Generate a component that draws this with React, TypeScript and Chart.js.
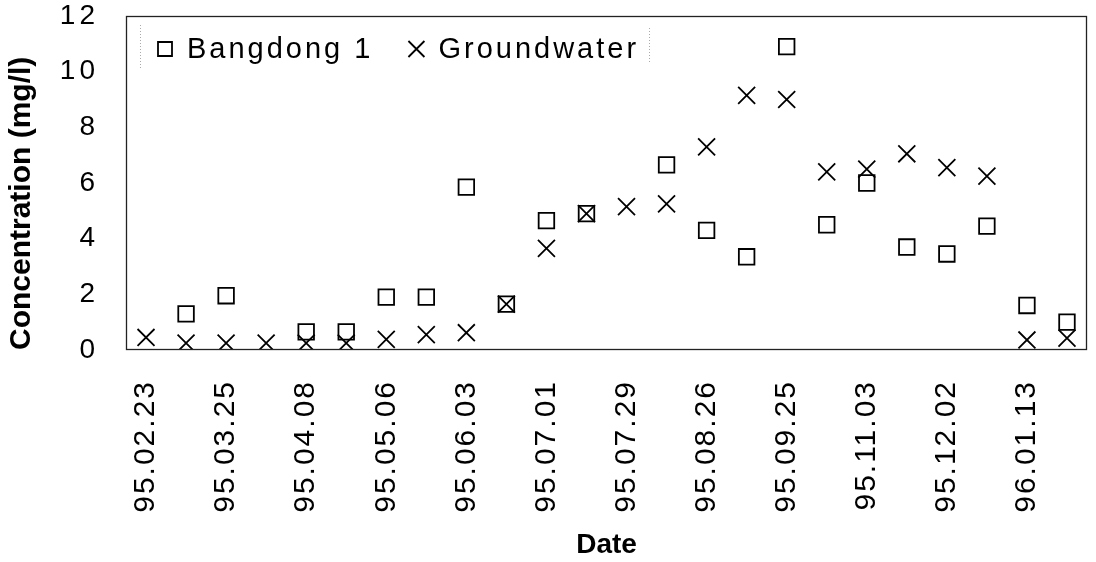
import React, { useEffect, useRef } from 'react';
import { Chart, registerables } from 'chart.js';

Chart.register(...registerables);

// Sampling dates: every other sampling date is labelled on the axis
const tickLabels = [
  '95.02.23', '95.03.25', '95.04.08', '95.05.06', '95.06.03', '95.07.01',
  '95.07.29', '95.08.26', '95.09.25', '95.11.03', '95.12.02', '96.01.13',
];
const categories: string[] = tickLabels.flatMap((l) => [l, '']);

const bangdong1: (number | null)[] = [
  null, 1.3, 1.95, null, 0.65, 0.65, 1.9, 1.9, 5.85, 1.65, 4.65, 4.9,
  null, 6.65, 4.3, 3.35, 10.9, 4.5, 6.0, 3.7, 3.45, 4.45, 1.6, 1.0,
];
const groundwater: (number | null)[] = [
  0.45, 0.25, 0.25, 0.25, 0.25, 0.25, 0.38, 0.55, 0.62, 1.65, 3.65, 4.9,
  5.15, 5.25, 7.3, 9.15, 9.0, 6.4, 6.5, 7.05, 6.55, 6.25, 0.36, 0.43,
];

const FONT = '"Liberation Sans", Arial, Helvetica, sans-serif';

const spacingPlugin = {
  id: 'labelSpacing',
  afterUpdate(chart: any) {
    const spacing: Record<string, string> = { x: '2px', y: '4px' };
    Object.values(chart.scales).forEach((scale: any) => {
      if (scale.__patched) return;
      const orig = scale.drawLabels;
      scale.drawLabels = function (area: any) {
        const ctx = this.ctx;
        ctx.save();
        try { ctx.letterSpacing = spacing[this.id] || '0px'; } catch (e) {}
        orig.call(this, area);
        ctx.restore();
      };
      scale.__patched = true;
    });
  },
};

const frameLegendPlugin = {
  id: 'frameLegend',
  afterDraw(chart: any) {
    const { ctx, chartArea: a } = chart;
    ctx.save();
    // plot frame
    ctx.strokeStyle = '#222';
    ctx.lineWidth = 1.3;
    ctx.strokeRect(a.left + 0.5, a.top + 0.5, a.right - a.left - 1, a.bottom - a.top - 1);

    // legend box sides (dotted)
    ctx.strokeStyle = '#aaa';
    ctx.lineWidth = 1;
    ctx.setLineDash([1, 2]);
    ctx.beginPath();
    ctx.moveTo(140.5, 25); ctx.lineTo(140.5, 68);
    ctx.moveTo(649.5, 28); ctx.lineTo(649.5, 63);
    ctx.stroke();
    ctx.setLineDash([]);

    // legend items
    ctx.font = `29px ${FONT}`;
    try { ctx.letterSpacing = '3px'; } catch (e) {}
    ctx.textBaseline = 'middle';
    ctx.textAlign = 'left';
    ctx.fillStyle = '#000';
    ctx.strokeStyle = '#000';
    ctx.lineWidth = 1.8;
    const cy = 49;
    let x = 157;
    chart.data.datasets.forEach((ds: any) => {
      const cx = x + 8;
      ctx.beginPath();
      if (ds.pointStyle === 'rect') {
        ctx.rect(cx - 7, cy - 7, 14, 14);
      } else {
        ctx.moveTo(cx - 8, cy - 8); ctx.lineTo(cx + 8, cy + 8);
        ctx.moveTo(cx + 8, cy - 8); ctx.lineTo(cx - 8, cy + 8);
      }
      ctx.stroke();
      const tx = x + 30;
      ctx.fillText(ds.label, tx, cy + 1);
      x = tx + ctx.measureText(ds.label).width + 35;
    });
    ctx.restore();
  },
};

function zeroPadding(scale: any) {
  scale.paddingTop = 0;
  scale.paddingBottom = 0;
  scale.paddingLeft = 0;
  scale.paddingRight = 0;
}

export default function App() {
  const ref = useRef<HTMLCanvasElement | null>(null);

  useEffect(() => {
    document.body.style.margin = '0';
    const canvas = ref.current;
    if (!canvas) return;
    const chart = new Chart(canvas, {
      type: 'line',
      data: {
        labels: categories,
        datasets: [
          {
            label: 'Bangdong 1',
            data: bangdong1,
            showLine: false,
            pointStyle: 'rect',
            pointRadius: 11,
            pointBorderWidth: 1.8,
            pointBorderColor: '#000',
            pointBackgroundColor: 'rgba(0,0,0,0)',
            borderColor: '#000',
            backgroundColor: 'rgba(0,0,0,0)',
          },
          {
            label: 'Groundwater',
            data: groundwater,
            showLine: false,
            pointStyle: 'crossRot',
            pointRadius: 12,
            pointBorderWidth: 1.8,
            pointBorderColor: '#000',
            pointBackgroundColor: 'rgba(0,0,0,0)',
            borderColor: '#000',
            backgroundColor: 'rgba(0,0,0,0)',
          },
        ],
      },
      options: {
        animation: false,
        responsive: false,
        devicePixelRatio: 1,
        layout: { autoPadding: false, padding: { top: 16, right: 9, left: 0, bottom: 0 } },
        plugins: {
          legend: { display: false },
          tooltip: { enabled: false },
        },
        scales: {
          x: {
            type: 'category',
            offset: true,
            grid: { display: false, drawTicks: false },
            border: { display: false },
            ticks: {
              autoSkip: false,
              minRotation: 90,
              maxRotation: 90,
              padding: 30,
              color: '#000',
              font: { family: FONT, size: 30 },
            },
            title: {
              display: true,
              text: 'Date',
              color: '#000',
              font: { family: FONT, size: 28, weight: 'bold' },
              padding: { top: 0, bottom: 0 },
            },
            afterFit(scale: any) { scale.height = 212; zeroPadding(scale); },
          },
          y: {
            min: 0,
            max: 12,
            grid: { display: false, drawTicks: false },
            border: { display: false },
            ticks: {
              stepSize: 2,
              padding: 27,
              color: '#000',
              font: { family: FONT, size: 28 },
            },
            title: {
              display: true,
              text: 'Concentration (mg/l)',
              align: 'start',
              color: '#000',
              font: { family: FONT, size: 30, weight: 'bold' },
              padding: { top: 4, bottom: 0 },
            },
            afterFit(scale: any) { scale.width = 126; zeroPadding(scale); },
          },
        },
      },
      plugins: [spacingPlugin, frameLegendPlugin],
    } as any);
    return () => chart.destroy();
  }, []);

  return (
    <div style={{ width: 1096, height: 562, background: '#fff' }}>
      <canvas ref={ref} width={1096} height={562} />
    </div>
  );
}
